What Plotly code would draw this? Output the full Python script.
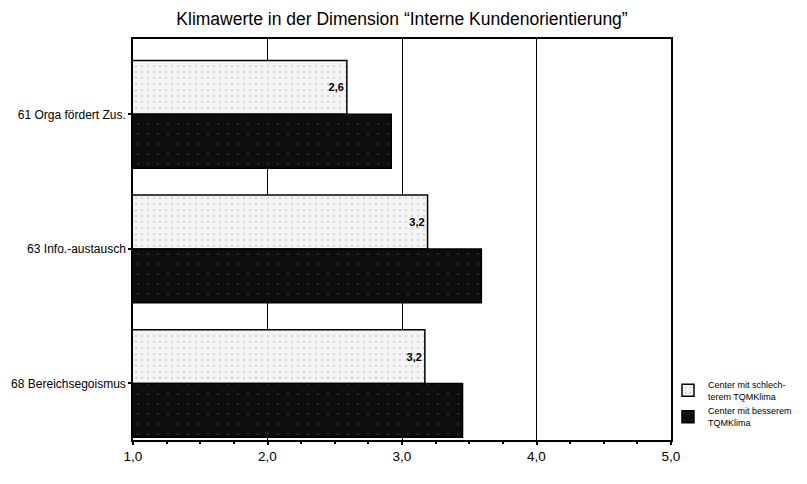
import plotly.graph_objects as go

categories = ["61 Orga fördert Zus.", "63 Info.-austausch", "68 Bereichsegoismus"]
schlechter = [2.59, 3.19, 3.17]
besser = [2.92, 3.59, 3.45]
series_names = ["Center mit schlech-<br>terem TQMKlima", "Center mit besserem<br>TQMKlima"]
x_ticks = [1, 2, 3, 4, 5]

FONT = "Liberation Sans Narrow, Arial Narrow, Liberation Sans, Arial, sans-serif"

fig = go.Figure()
fig.add_trace(go.Bar(
    y=categories, x=schlechter, orientation="h", name=series_names[0],
    marker=dict(color="#f4f4f4", line=dict(color="black", width=1.5),
                pattern=dict(shape=".", fgcolor="#a8a8a8", bgcolor="#f4f4f4", size=6, solidity=0.1)),
    texttemplate="<b>%{x:.1f}</b>", textposition="inside", insidetextanchor="end",
    textfont=dict(family=FONT, size=11, color="black"), constraintext="none",
))
fig.add_trace(go.Bar(
    y=categories, x=besser, orientation="h", name=series_names[1],
    marker=dict(color="#0d0d0d", line=dict(color="black", width=1.5),
                pattern=dict(shape=".", fgcolor="#5a5a5a", bgcolor="#0d0d0d", size=10, solidity=0.03)),
))

fig.update_layout(
    width=799, height=476,
    margin=dict(l=125, r=136, t=31, b=44, autoexpand=False),
    paper_bgcolor="white", plot_bgcolor="white",
    barmode="group", bargap=0.2, bargroupgap=0,
    separators=",.",
    font=dict(family=FONT, size=13, color="black"),
    title=dict(text="Klimawerte in der Dimension “Interne Kundenorientierung”",
               x=0.5, xref="paper", xanchor="center", y=0.99, yanchor="top",
               font=dict(family=FONT, size=17.5, color="black")),
    legend=dict(x=0.826, xref="container", xanchor="left", y=0.235, yref="container", yanchor="top",
                font=dict(family=FONT, size=9, color="black"),
                bgcolor="rgba(0,0,0,0)", tracegroupgap=14, traceorder="normal"),
    showlegend=True,
)
fig.update_xaxes(
    range=[1, 5], tickvals=x_ticks, tickformat=".1f", automargin=False,
    showgrid=True, gridcolor="black", gridwidth=1,
    showline=True, linecolor="black", linewidth=1.5, mirror=True,
    ticks="outside", ticklen=3, tickwidth=2, tickcolor="black",
    minor=dict(ticks="outside", ticklen=2, tickwidth=1.5, tickcolor="black", dtick=0.25, showgrid=False),
    tickfont=dict(family=FONT, size=13.5, color="black"), zeroline=False,
)
fig.update_yaxes(
    range=[2.42, -0.56], categoryorder="array", categoryarray=categories, automargin=False,
    showline=True, linecolor="black", linewidth=1.5, mirror=True,
    ticks="outside", ticklen=3, tickwidth=2, tickcolor="black",
    tickfont=dict(family=FONT, size=12, color="black"), showgrid=False,
)
fig.write_html("out.html")
